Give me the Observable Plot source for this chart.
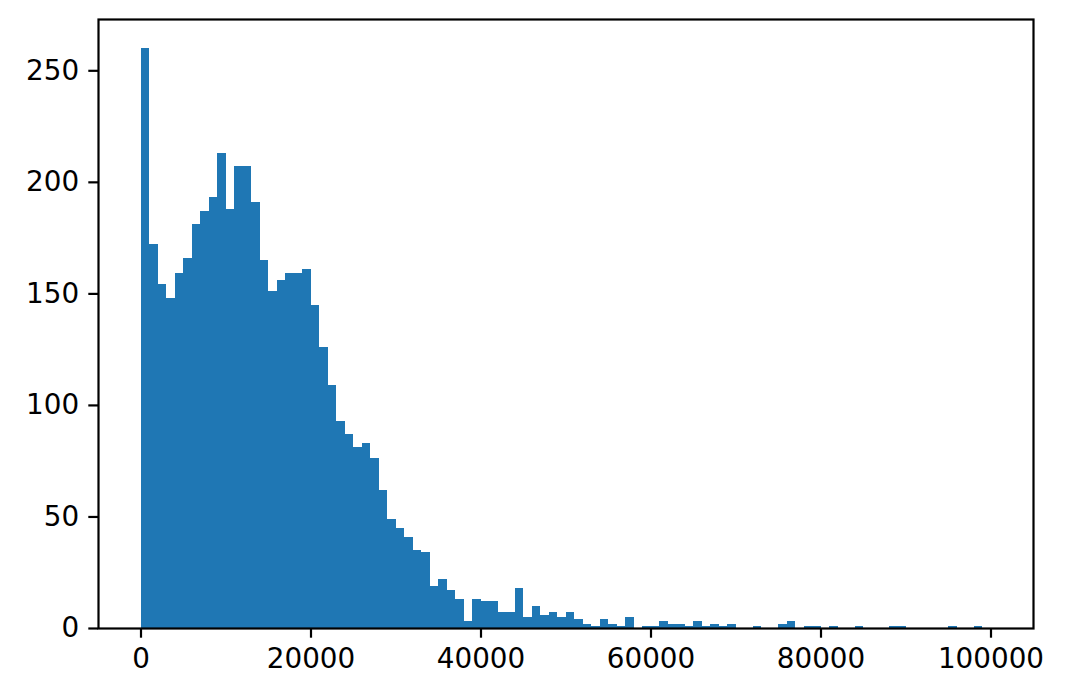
<!DOCTYPE html>
<html>
<head>
<meta charset="utf-8">
<script src="https://cdn.jsdelivr.net/npm/d3@7"></script>
<script src="https://cdn.jsdelivr.net/npm/@observablehq/plot@0.6"></script>
<style>
  html, body { margin: 0; padding: 0; background: #fff; }
  #chart svg { display: block; }
</style>
</head>
<body>
<div id="chart"></div>
<script>
// Histogram: 100 bins of width 1000 from 0 to 100000
const binWidth = 1000;
const binStart = 0;
const counts = [
  260, 172, 154, 148, 159, 166, 181, 187, 193, 213,
  188, 207, 207, 191, 165, 151, 156, 159, 159, 161,
  145, 126, 109, 93, 87, 81, 83, 76, 62, 49,
  45, 41, 35, 34, 19, 22, 17, 13, 3, 13,
  12, 12, 7, 7, 18, 5, 10, 6, 7, 5,
  7, 4, 2, 1, 4, 2, 1, 5, 0, 1,
  1, 3, 2, 2, 1, 3, 1, 2, 1, 2,
  0, 0, 1, 0, 0, 2, 3, 0, 1, 1,
  0, 1, 0, 0, 1, 0, 0, 0, 1, 1,
  0, 0, 0, 0, 0, 1, 0, 0, 1, 0
];
const xTicks = [0, 20000, 40000, 60000, 80000, 100000];
const yTicks = [0, 50, 100, 150, 200, 250];

const bins = counts.map((c, i) => ({
  x1: binStart + i * binWidth,
  x2: binStart + (i + 1) * binWidth,
  count: c
})).filter(d => d.count > 0);

const fontPx = 27.8;
const tick = 9.7;

const chart = Plot.plot({
  width: 1069,
  height: 696,
  marginLeft: 98,
  marginRight: 36,
  marginTop: 19,
  marginBottom: 68,
  style: {
    fontFamily: "DejaVu Sans, sans-serif",
    fontSize: fontPx + "px",
    color: "#000",
    background: "#fff",
    overflow: "visible"
  },
  x: { domain: [-5000, 105000] },
  y: { domain: [0, 273] },
  marks: [
    Plot.rectY(bins, {
      x1: "x1", x2: "x2", y1: 0, y2: "count",
      fill: "#1f77b4",
      shapeRendering: "crispEdges"
    }),
    Plot.axisX({
      ticks: xTicks,
      tickFormat: d3.format("d"),
      tickSize: tick,
      tickPadding: tick,
      strokeWidth: 2.2,
      label: null,
      fontSize: fontPx
    }),
    Plot.axisY({
      ticks: yTicks,
      tickFormat: d3.format("d"),
      tickSize: tick,
      tickPadding: tick,
      strokeWidth: 2.2,
      label: null,
      fontSize: fontPx
    }),
    Plot.frame({ stroke: "#000", strokeWidth: 2.2 })
  ]
});

document.getElementById("chart").appendChild(chart);
</script>
</body>
</html>
